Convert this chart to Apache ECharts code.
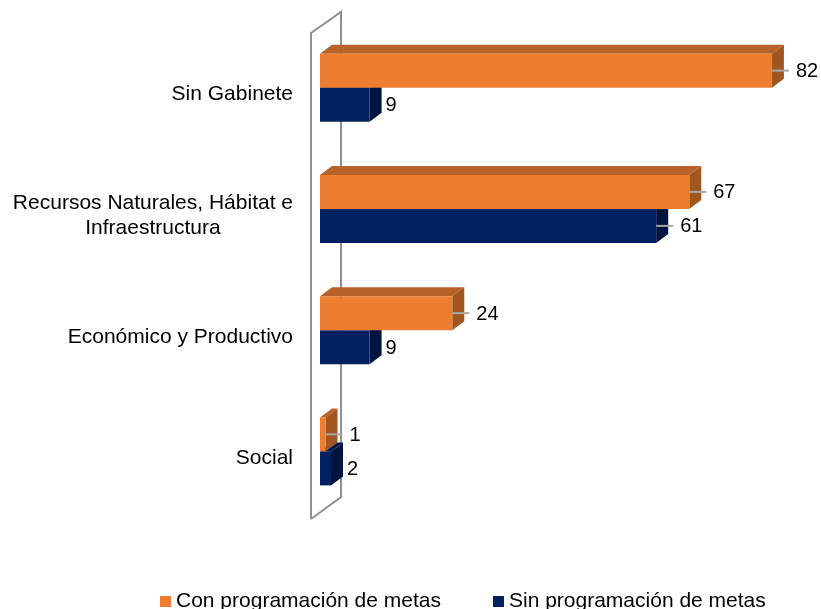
<!DOCTYPE html>
<html>
<head>
<meta charset="utf-8">
<script src="https://cdn.jsdelivr.net/npm/echarts@6/dist/echarts.min.js"></script>
<style>
  html, body { margin: 0; padding: 0; background: #fff; }
  #chart { width: 821px; height: 609px; }
</style>
</head>
<body>
<div id="chart"></div>
<script>
// datos
const categories = ['Sin Gabinete', 'Recursos Naturales, Hábitat e\nInfraestructura', 'Económico y Productivo', 'Social']
const conMetas = [82, 67, 24, 1]
const sinMetas = [9, 61, 9, 2]
const seriesNames = ['Con programación de metas', 'Sin programación de metas']

// etiquetas con línea guía (estilo)
const conLeader = [true, true, true, true]
const sinLeader = [false, true, false, false]

const FONT = '"Liberation Sans", Arial, sans-serif'
const BAR_H = 34
const DX = 12
const DY = 9

// barra 3D: cara frontal, superior y lateral + etiqueta
function bar3d (colors, above, leaders) {
  return function (params, api) {
    const v = api.value(0)
    const idx = api.value(1)
    const p0 = api.coord([0, idx])
    const p1 = api.coord([v, idx])
    const x0 = p0[0]
    const x1 = p1[0]
    const yc = p0[1]
    const y0 = above ? yc - BAR_H : yc
    const y1 = above ? yc : yc + BAR_H
    const children = [
      {
        type: 'polygon',
        shape: { points: [[x0, y0], [x0 + DX, y0 - DY], [x1 + DX, y0 - DY], [x1, y0]] },
        style: { fill: colors.top }
      },
      {
        type: 'polygon',
        shape: { points: [[x1, y0], [x1 + DX, y0 - DY], [x1 + DX, y1 - DY], [x1, y1]] },
        style: { fill: colors.side }
      },
      {
        type: 'rect',
        shape: { x: x0, y: y0, width: x1 - x0, height: y1 - y0 },
        style: { fill: colors.front }
      }
    ]
    const ym = (y0 + y1) / 2
    const leader = leaders[params.dataIndex]
    if (leader) {
      children.push({
        type: 'line',
        shape: { x1: x1, y1: ym, x2: x1 + 17, y2: ym },
        style: { stroke: '#a6a6a6', lineWidth: 2 }
      })
    }
    children.push({
      type: 'text',
      style: {
        x: x1 + (leader ? 24 : 16),
        y: ym + 1,
        text: String(v),
        fill: '#000',
        font: '20px ' + FONT,
        align: 'left',
        verticalAlign: 'middle'
      }
    })
    return { type: 'group', children: children }
  }
}

const chart = echarts.init(document.getElementById('chart'))
chart.setOption({
  animation: false,
  backgroundColor: '#fff',
  grid: { left: 320, top: 27, width: 496, height: 485 },
  xAxis: {
    type: 'value',
    min: 0,
    max: 90,
    show: false
  },
  yAxis: {
    type: 'category',
    data: categories,
    inverse: true,
    axisLine: { show: false },
    axisTick: { show: false },
    axisLabel: {
      margin: 27,
      padding: [14, 0, 0, 0],
      formatter: v => v.split('\n').map(s => '{c|' + s + '}').join('\n'),
      rich: {
        c: { align: 'center', fontSize: 21, lineHeight: 25, fontFamily: FONT, color: '#000' }
      }
    }
  },
  legend: {
    data: seriesNames,
    left: 155,
    top: 586,
    icon: 'rect',
    itemWidth: 11,
    itemHeight: 11,
    itemGap: 52,
    textStyle: { fontSize: 21, fontFamily: FONT, color: '#000' }
  },
  graphic: [
    {
      type: 'polyline',
      shape: { points: [[311, 519], [311, 33], [341, 12], [341, 497], [311, 519]] },
      style: { stroke: '#8f8f8f', lineWidth: 2, fill: null },
      z: 0
    }
  ],
  series: [
    {
      name: seriesNames[1],
      type: 'custom',
      itemStyle: { color: '#002060' },
      encode: { x: 0, y: 1 },
      clip: false,
      z: 2,
      data: sinMetas.map((v, i) => [v, i]),
      renderItem: bar3d({ front: '#002060', top: '#001a50', side: '#001440' }, false, sinLeader)
    },
    {
      name: seriesNames[0],
      type: 'custom',
      itemStyle: { color: '#ED7D31' },
      encode: { x: 0, y: 1 },
      clip: false,
      z: 3,
      data: conMetas.map((v, i) => [v, i]),
      renderItem: bar3d({ front: '#ED7D31', top: '#B8622A', side: '#A2561F' }, true, conLeader)
    }
  ]
})
</script>
</body>
</html>
